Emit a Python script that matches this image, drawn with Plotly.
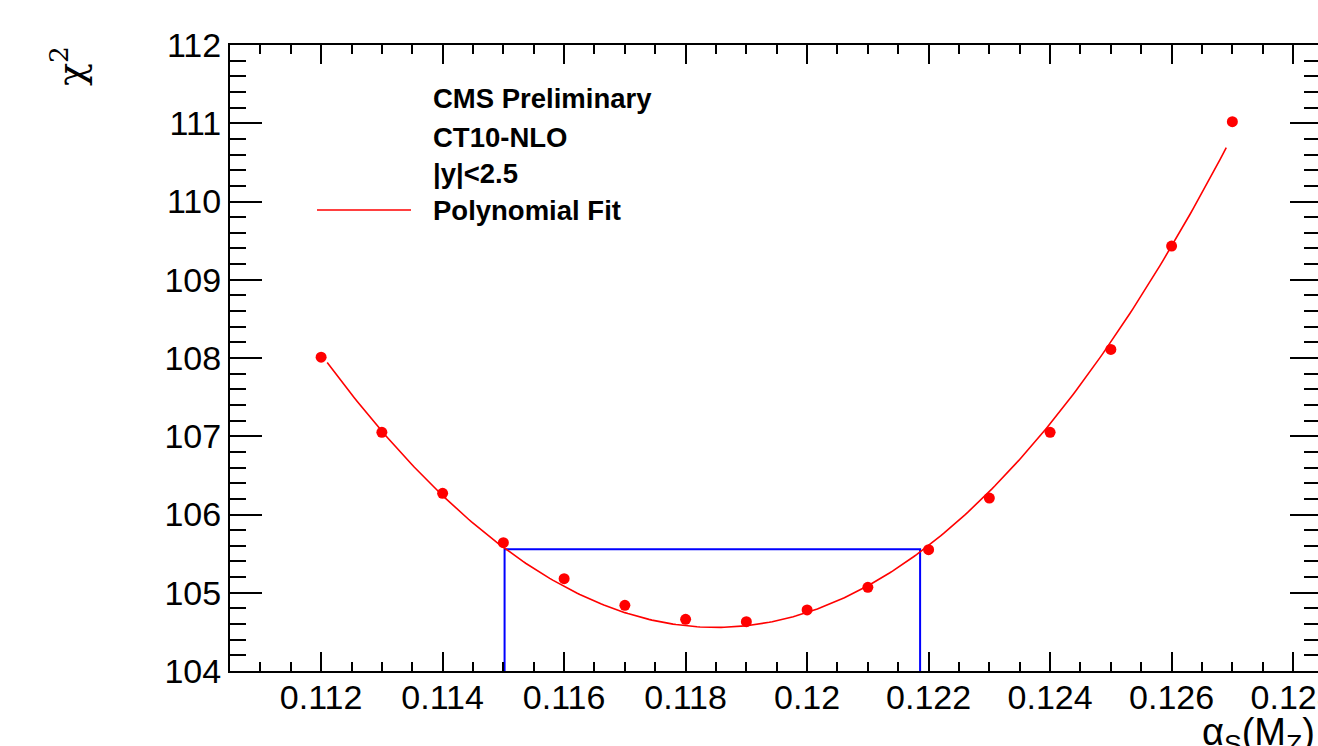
import numpy as np
import plotly.graph_objects as go

# chi2 scan versus alpha_s(M_Z)
alpha_s = [0.112, 0.113, 0.114, 0.115, 0.116, 0.117, 0.118, 0.119,
           0.120, 0.121, 0.122, 0.123, 0.124, 0.125, 0.126, 0.127]
chi2 = [108.01, 107.05, 106.27, 105.64, 105.18, 104.84, 104.66, 104.63,
        104.78, 105.07, 105.55, 106.21, 107.05, 108.11, 109.43, 111.02]

# polynomial fit result: chi2 = chi2_min + c2*(x-x0)^2 + c3*(x-x0)^3
fit_x0 = 0.1185
fit_chi2_min = 104.557
fit_c2 = 84470.0
fit_c3 = 286800.0
fit_range = [0.1121, 0.1269]

# delta chi2 = 1 interval quoted from the fit
interval_alpha = [0.11502, 0.12186]
interval_chi2 = 105.557

x_range = [0.1105, 0.12841]
y_range = [104, 112]

info_lines = ["CMS Preliminary", "CT10-NLO", "|y|<2.5"]
fit_label = "Polynomial Fit"

RED = "#ff0000"
BLUE = "#0000ff"
FONT = "Liberation Sans, Arial, sans-serif"
GREEK_FONT = "DejaVu Serif, serif"

poly = np.poly1d([fit_c3, fit_c2, 0.0, fit_chi2_min])
xf = np.linspace(fit_range[0], fit_range[1], 300)
yf = poly(xf - fit_x0)

lo, hi = interval_alpha

fig = go.Figure()

fig.add_trace(go.Scatter(
    x=[lo, lo, hi, hi],
    y=[y_range[0], interval_chi2, interval_chi2, y_range[0]],
    mode="lines", line=dict(color=BLUE, width=2), showlegend=False,
    hoverinfo="skip"))

fig.add_trace(go.Scatter(
    x=xf, y=yf, mode="lines", line=dict(color=RED, width=1.6),
    name=fit_label, showlegend=False))

fig.add_trace(go.Scatter(
    x=alpha_s, y=chi2, mode="markers",
    marker=dict(color=RED, size=11, line=dict(width=0)),
    showlegend=False))

# invisible trace to carry the right-hand tick marks
fig.add_trace(go.Scatter(x=[x_range[0]], y=[y_range[0]], yaxis="y2",
                         mode="markers", marker=dict(opacity=0),
                         showlegend=False, hoverinfo="skip"))

L, R, T, B = 230, 0, 45, 75
W, H = 1318, 746
pw, ph = W - L - R, H - T - B


def px(xp):
    return (xp - L) / pw


def py(yp):
    return (H - B - yp) / ph


tick_font = dict(family=FONT, size=34, color="black")

fig.update_layout(
    width=W, height=H,
    margin=dict(l=L, r=R, t=T, b=B, pad=0, autoexpand=False),
    paper_bgcolor="white", plot_bgcolor="white",
    showlegend=False,
    xaxis=dict(
        range=x_range, showgrid=False, zeroline=False, automargin=False,
        showline=True, linecolor="black", linewidth=2, mirror="ticks",
        ticks="inside", ticklen=19, tickwidth=2, tickcolor="black",
        tick0=0.112, dtick=0.002, tickfont=tick_font,
        ticklabeloverflow="allow", ticklabelstandoff=-5,
        minor=dict(dtick=0.0005, tick0=0.112, ticks="inside", ticklen=9,
                   tickwidth=2, tickcolor="black", showgrid=False),
    ),
    yaxis=dict(
        range=y_range, showgrid=False, zeroline=False, automargin=False,
        showline=True, linecolor="black", linewidth=2,
        ticks="inside", ticklen=32, tickwidth=2, tickcolor="black",
        tick0=104, dtick=1, tickfont=tick_font,
        ticklabeloverflow="allow",
        minor=dict(dtick=0.2, tick0=104, ticks="inside", ticklen=16,
                   tickwidth=2, tickcolor="black", showgrid=False),
    ),
    yaxis2=dict(
        overlaying="y", side="right", range=y_range, automargin=False,
        showgrid=False, zeroline=False, showline=False,
        showticklabels=False,
        ticks="inside", ticklen=28, tickwidth=2, tickcolor="black",
        tick0=104, dtick=1,
        minor=dict(dtick=0.2, tick0=104, ticks="inside", ticklen=14,
                   tickwidth=2, tickcolor="black", showgrid=False),
    ),
)

annotations = []
text_y = [98, 137, 173]
for line, yy in zip(info_lines, text_y):
    annotations.append(dict(
        xref="paper", yref="paper", x=px(431), y=py(yy),
        xanchor="left", yanchor="middle", showarrow=False,
        text="<b>%s</b>" % line,
        font=dict(family=FONT, size=27.5, color="black")))
annotations.append(dict(
    xref="paper", yref="paper", x=px(431), y=py(210),
    xanchor="left", yanchor="middle", showarrow=False,
    text="<b>%s</b>" % fit_label,
    font=dict(family=FONT, size=27.5, color="black")))

# axis titles
annotations.append(dict(
    xref="paper", yref="paper", x=px(68), y=py(66),
    xanchor="center", yanchor="middle", showarrow=False, textangle=-90,
    text="χ<sup>2</sup>", font=dict(family=GREEK_FONT, size=38,
                                     color="black")))
annotations.append(dict(
    xref="paper", yref="paper", x=px(1317), y=py(709),
    xanchor="right", yanchor="top", showarrow=False,
    text="α<sub>S</sub>(M<sub>Z</sub>)",
    font=dict(family=FONT, size=38, color="black")))

fig.update_layout(annotations=annotations)

# legend sample line
fig.add_shape(type="line", xref="paper", yref="paper",
              x0=px(317), x1=px(411), y0=py(210), y1=py(210),
              line=dict(color=RED, width=1.6))

fig.write_html("out.html")
